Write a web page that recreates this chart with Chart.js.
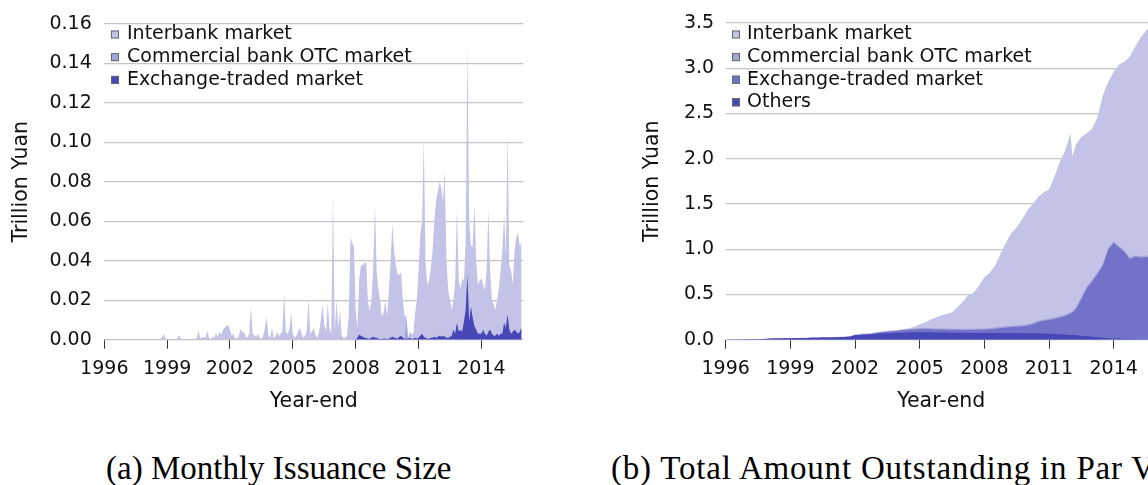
<!DOCTYPE html>
<html><head><meta charset="utf-8">
<script src="https://cdn.jsdelivr.net/npm/chart.js@4.4.0/dist/chart.umd.min.js"></script>
<style>
html,body{margin:0;padding:0;background:#fff;overflow:hidden;width:1148px;height:485px}
#wrap{position:relative;width:1148px;height:485px;overflow:hidden;background:#fff}
.pane{position:absolute;top:0}
.cap{position:absolute;top:452px;font-family:"Liberation Serif",serif;font-size:33px;line-height:33px;color:#000;white-space:nowrap}
</style></head><body>
<div id="wrap">
  <div class="pane" style="left:0px;width:540px;height:420px"><canvas id="c1" width="540" height="420"></canvas></div>
  <div class="pane" style="left:620px;width:560px;height:420px"><canvas id="c2" width="560" height="420"></canvas></div>
  <div class="cap" style="left:106px">(a) Monthly Issuance Size</div>
  <div class="cap" style="left:611px;letter-spacing:0.8px">(b) Total Amount Outstanding in Par Value</div>
</div>
<script>
// ---------- Panel (a): monthly issuance, Jan 1996 .. Dec 2015 (trillion yuan) ----------
const monthYears = [];
for (let y = 1996; y <= 2015; y++) for (let m = 0; m < 12; m++) monthYears.push(y + m / 12);

const issuanceInterbank = [
  0,0,0,0,0,0,0,0,0,0,0,0,
  0,0,0,0,0,0,0,0,0.0004,0.0002,0,0,
  0,0,0,0,0,0,0,0.0003,0.0005,0.001,0.003,0.0006,
  0,0,0,0,0,0.0003,0.0008,0.0024,0.0004,0,0,0,
  0,0,0,0,0.0003,0.001,0.0045,0.0006,0.0012,0.0015,0.001,0.0045,
  0.0008,0.0002,0.0015,0.0008,0.0035,0.0012,0.004,0.0025,0.005,0.0062,0.007,0.0075,
  0.005,0.002,0.003,0.0005,0.0008,0.0015,0.0055,0.0035,0.004,0.0015,0.001,0.003,
  0.0164,0.003,0.002,0.0015,0.003,0.001,0.0005,0.002,0.006,0.0114,0.002,0.001,
  0.006,0.001,0.0015,0.004,0.002,0.003,0.004,0.0238,0.004,0.003,0.005,0.0139,
  0.003,0.001,0.002,0.004,0.006,0.003,0.001,0.002,0.005,0.0206,0.003,0.004,
  0.006,0.002,0.001,0.004,0.01,0.018,0.008,0.004,0.019,0.006,0.003,0.0737,
  0.004,0.02,0.006,0.015,0.002,0.001,0.001,0.002,0.012,0.052,0.049,0.047,
  0.015,0.005,0.028,0.036,0.036,0.038,0.038,0.019,0.014,0.019,0.034,0.0676,
  0.034,0.025,0.02,0.0113,0.0135,0.0195,0.0117,0.0245,0.039,0.0573,0.044,0.0372,
  0.0325,0.0315,0.032,0.019,0.0115,0.0015,0.001,0.003,0.0027,0.0025,0.012,0.0195,
  0.034,0.051,0.057,0.1006,0.039,0.0275,0.0295,0.035,0.044,0.0585,0.0692,0.0735,
  0.078,0.0755,0.068,0.0838,0.039,0.024,0.0185,0.013,0.015,0.027,0.0584,0.026,
  0.021,0.027,0.021,0.035,0.117,0.051,0.031,0.036,0.062,0.035,0.025,0.027,
  0.028,0.023,0.022,0.033,0.062,0.03,0.017,0.016,0.013,0.017,0.024,0.032,
  0.042,0.055,0.037,0.093,0.033,0.032,0.024,0.04,0.048,0.051,0.043,0.044
];
const issuanceOTC = [
  0,0,0,0,0,0,0,0,0,0,0,0,
  0,0,0,0,0,0,0,0,0,0,0,0,
  0,0,0,0,0,0,0,0,0,0,0,0,
  0,0,0,0,0,0,0,0,0,0,0,0,
  0,0,0,0,0,0,0,0,0,0,0,0,
  0,0,0,0,0,0,0,0,0,0,0,0,
  0,0,0,0,0,0,0,0,0,0,0,0,
  0,0,0,0,0,0,0,0,0,0,0,0,
  0,0,0,0,0,0,0,0,0,0,0,0,
  0,0,0,0,0,0,0,0,0,0,0,0,
  0,0,0,0,0,0,0,0,0,0,0,0,
  0,0,0,0,0,0,0,0,0,0,0,0,
  0,0,0,0,0,0,0,0,0,0,0,0,
  0,0,0,0,0,0,0,0,0,0,0,0,
  0,0,0,0,0,0.01,0,0,0,0,0,0,
  0,0,0,0,0,0,0,0,0,0,0,0,
  0,0,0,0,0,0,0,0,0,0,0,0,
  0,0,0,0,0,0,0,0,0,0,0,0,
  0,0,0,0,0,0,0,0,0,0,0,0,
  0,0,0,0,0,0,0,0,0,0,0,0
];
const issuanceExchange = [
  0,0,0,0,0,0,0,0,0,0,0,0,
  0,0,0,0,0,0,0,0,0,0,0,0,
  0,0,0,0,0,0,0,0,0,0,0,0,
  0,0,0,0,0,0,0,0,0,0,0,0,
  0,0,0,0,0,0,0,0,0,0,0,0,
  0,0,0,0,0,0,0,0,0,0,0,0,
  0,0,0,0,0,0,0,0,0,0,0,0,
  0,0,0,0,0,0,0,0,0,0,0,0,
  0,0,0,0,0,0,0,0,0,0,0,0,
  0,0,0,0,0,0,0,0,0,0,0,0,
  0,0,0,0,0,0,0,0,0,0,0,0,
  0,0,0,0,0,0,0,0,0,0,0,0,
  0,0.001,0.0025,0.002,0.0015,0.001,0.0008,0.0005,0.0005,0.001,0.0015,0.001,
  0.001,0.0005,0.0003,0.0003,0.0005,0.0005,0.0003,0.0005,0.001,0.0015,0.001,0.0008,
  0.0005,0.0015,0.002,0.001,0.0005,0.0005,0.0005,0.001,0.0003,0.0005,0.001,0.0005,
  0.001,0.002,0.003,0.0015,0.001,0.0005,0.0005,0.001,0.001,0.0015,0.001,0.0015,
  0.002,0.0015,0.002,0.0015,0.001,0.001,0.0015,0.002,0.005,0.003,0.0085,0.004,
  0.005,0.004,0.009,0.015,0.033,0.009,0.0167,0.011,0.007,0.005,0.003,0.003,
  0.003,0.005,0.003,0.002,0.004,0.005,0.003,0.002,0.002,0.003,0.002,0.003,
  0.003,0.0085,0.006,0.0128,0.005,0.003,0.004,0.005,0.004,0.003,0.004,0.006
];
const issuanceTicks = [0, 0.02, 0.04, 0.06, 0.08, 0.10, 0.12, 0.14, 0.16];

// ---------- Panel (b): amount outstanding (trillion yuan) ----------
const outDates = [
  1996,1996.25,1996.5,1996.75,1997,1997.25,1997.5,1997.75,1998,1998.25,1998.5,1998.75,
  1999,1999.25,1999.5,1999.75,2000,2000.25,2000.5,2000.75,2001,2001.25,2001.5,2001.75,
  2002,2002.25,2002.5,2002.75,2003,2003.25,2003.5,2003.75,2004,2004.25,2004.5,2004.75,
  2005,2005.25,2005.5,2005.75,2006,2006.25,2006.5,2006.75,2007,2007.25,2007.5,2007.75,
  2008,2008.25,2008.5,2008.75,2009,2009.25,2009.5,2009.75,2010,2010.25,2010.5,2010.75,
  2011,2011.25,2011.5,2011.75,2012,2012.083,2012.25,2012.5,2012.75,
  2013,2013.25,2013.5,2013.75,2014,2014.25,2014.5,2014.75,2015,2015.25,2015.5,2015.75,2016
];
const outOthers = [
  0,0.001,0.002,0.003,0.004,0.005,0.006,0.008,0.010,0.012,0.013,0.015,
  0.017,0.019,0.020,0.020,0.021,0.022,0.023,0.024,0.025,0.027,0.029,0.032,
  0.050,0.055,0.057,0.060,0.065,0.070,0.072,0.074,0.076,0.078,0.080,0.081,
  0.082,0.082,0.081,0.080,0.080,0.079,0.078,0.077,0.076,0.075,0.075,0.074,
  0.074,0.074,0.074,0.074,0.074,0.073,0.073,0.072,0.072,0.071,0.070,0.069,
  0.067,0.064,0.061,0.057,0.053,0.052,0.048,0.043,0.038,
  0.033,0.027,0.022,0.017,0.013,0.010,0.008,0.007,0.006,0.005,0.005,0.005,0.005
];
const outExchange = [
  0,0,0,0,0,0,0,0,0,0,0,0,
  0,0,0,0,0,0,0,0,0,0,0,0,
  0,0,0,0.002,0.008,0.012,0.015,0.018,0.022,0.026,0.030,0.032,
  0.034,0.035,0.035,0.034,0.033,0.032,0.032,0.032,0.032,0.033,0.034,0.036,
  0.038,0.042,0.048,0.055,0.062,0.066,0.070,0.075,0.085,0.100,0.125,0.140,
  0.150,0.165,0.185,0.205,0.235,0.245,0.290,0.410,0.530,
  0.610,0.700,0.800,0.980,1.055,1.010,0.960,0.883,0.910,0.900,0.905,0.915,0.930
];
const outOTC = [
  0,0,0,0,0,0,0,0,0,0,0,0,
  0,0,0,0,0,0,0,0,0,0,0,0,
  0,0,0,0,0,0,0.003,0.004,0.005,0.006,0.008,0.010,
  0.012,0.012,0.012,0.012,0.012,0.012,0.012,0.012,0.012,0.012,0.012,0.012,
  0.013,0.013,0.013,0.014,0.014,0.014,0.014,0.015,0.015,0.015,0.015,0.015,
  0.016,0.016,0.016,0.016,0.016,0.016,0.016,0.017,0.017,
  0.017,0.017,0.017,0.017,0.017,0.017,0.017,0.017,0.018,0.018,0.018,0.018,0.018
];
const outInterbank = [
  0,0,0,0,0,0,0,0,0,0,0.001,0.001,
  0.001,0.001,0.001,0.002,0.002,0.002,0.003,0.004,0.005,0.006,0.007,0.008,
  0.010,0.011,0.013,0.013,0.012,0.010,0.010,0.009,0.007,0.007,0.009,0.019,
  0.042,0.061,0.092,0.119,0.145,0.162,0.178,0.239,0.300,0.370,0.399,0.478,
  0.565,0.611,0.685,0.807,0.920,1.027,1.083,1.168,1.258,1.314,1.370,1.401,
  1.427,1.555,1.698,1.812,1.976,1.707,1.806,1.770,1.695,
  1.670,1.716,1.861,1.836,1.875,2.003,2.085,2.223,2.306,2.417,2.487,2.522,2.547
];
const outTicks = [0, 0.5, 1.0, 1.5, 2.0, 2.5, 3.0, 3.5];
const yearTicks = [1996, 1999, 2002, 2005, 2008, 2011, 2014];

// ---------- shared styling ----------
const FONT = 'DejaVu Sans';
const C_INTER = '#c3c3e7', C_OTC = '#a4a4dc', C_EXCH_R = '#7272c8', C_DARK = '#4646b6';

Chart.defaults.font.family = FONT;
Chart.defaults.font.size = 19;
Chart.defaults.color = '#111';

const boxLegend = {
  id: 'boxLegend',
  afterDraw(chart, args, o) {
    const ctx = chart.ctx;
    const ds = chart.data.datasets.slice().reverse();
    ctx.save();
    ctx.font = '19px "' + FONT + '"';
    ctx.textBaseline = 'middle';
    ctx.textAlign = 'left';
    ds.forEach((d, i) => {
      const y = o.y0 + i * o.dy;
      ctx.fillStyle = d.backgroundColor;
      ctx.fillRect(o.x0, y - o.size / 2, o.size, o.size);
      ctx.strokeStyle = '#666';
      ctx.lineWidth = 1;
      ctx.strokeRect(o.x0 + 0.5, y - o.size / 2 + 0.5, o.size - 1, o.size - 1);
      ctx.fillStyle = '#111';
      ctx.fillText(d.label, o.tx, y);
    });
    ctx.restore();
  }
};

function areaDs(label, xs, vals, color) {
  return {
    label, data: vals.map((v, i) => ({ x: xs[i], y: v })),
    backgroundColor: color, borderColor: 'rgba(0,0,0,0)', borderWidth: 0,
    pointRadius: 0, pointHoverRadius: 0, fill: 'origin', tension: 0
  };
}

function makeOptions(cfg) {
  return {
    responsive: false, animation: false, devicePixelRatio: 1,
    layout: { padding: { top: 21, right: cfg.padRight, bottom: 0, left: 0 } },
    plugins: { legend: { display: false }, tooltip: { enabled: false }, boxLegend: cfg.legend },
    scales: {
      x: {
        type: 'linear', min: 1996, max: 2016,
        afterBuildTicks: s => { s.ticks = yearTicks.map(v => ({ value: v })); },
        ticks: { callback: v => String(v), padding: 9, color: '#111', font: { size: 19 }, maxRotation: 0 },
        grid: { drawOnChartArea: false, drawTicks: true, tickLength: 9, tickColor: '#333', tickWidth: 1 },
        border: { display: false },
        title: { display: true, text: 'Year-end', color: '#111', font: { size: 20.5 }, padding: { top: 0, bottom: 6.5 } },
        afterFit: s => { s.height = 80.3; }
      },
      y: {
        stacked: true, min: 0, max: cfg.ymax,
        afterBuildTicks: s => { s.ticks = cfg.ticks.map(v => ({ value: v })); },
        ticks: { callback: v => v.toFixed(cfg.dec), padding: cfg.yPad, color: '#111', font: { size: 19 } },
        grid: { color: '#c4c4c4', lineWidth: 1.2, drawTicks: false },
        border: { display: false },
        title: { display: true, text: 'Trillion Yuan', color: '#111', font: { size: 20.5 }, padding: { top: cfg.titlePad, bottom: 0 } },
        afterFit: s => { s.width = cfg.yWidth; }
      }
    }
  };
}

new Chart(document.getElementById('c1'), {
  type: 'line',
  data: {
    datasets: [
      areaDs('Exchange-traded market', monthYears, issuanceExchange, C_DARK),
      areaDs('Commercial bank OTC market', monthYears, issuanceOTC, C_OTC),
      areaDs('Interbank market', monthYears, issuanceInterbank, C_INTER)
    ]
  },
  options: makeOptions({
    padRight: 16.7, ymax: 0.16, ticks: issuanceTicks, dec: 2, yPad: 12.5, titlePad: 9, yWidth: 104.3,
    legend: { x0: 111, tx: 127, y0: 34.5, dy: 22.7, size: 8 }
  }),
  plugins: [boxLegend]
});

new Chart(document.getElementById('c2'), {
  type: 'line',
  data: {
    datasets: [
      areaDs('Others', outDates, outOthers, C_DARK),
      areaDs('Exchange-traded market', outDates, outExchange, C_EXCH_R),
      areaDs('Commercial bank OTC market', outDates, outOTC, C_OTC),
      areaDs('Interbank market', outDates, outInterbank, C_INTER)
    ]
  },
  options: makeOptions({
    padRight: 23.2, ymax: 3.5, ticks: outTicks, dec: 1, yPad: 11.5, titlePad: 20, yWidth: 105.7,
    legend: { x0: 112, tx: 127, y0: 34.5, dy: 22.6, size: 8 }
  }),
  plugins: [boxLegend]
});
</script>
</body></html>
